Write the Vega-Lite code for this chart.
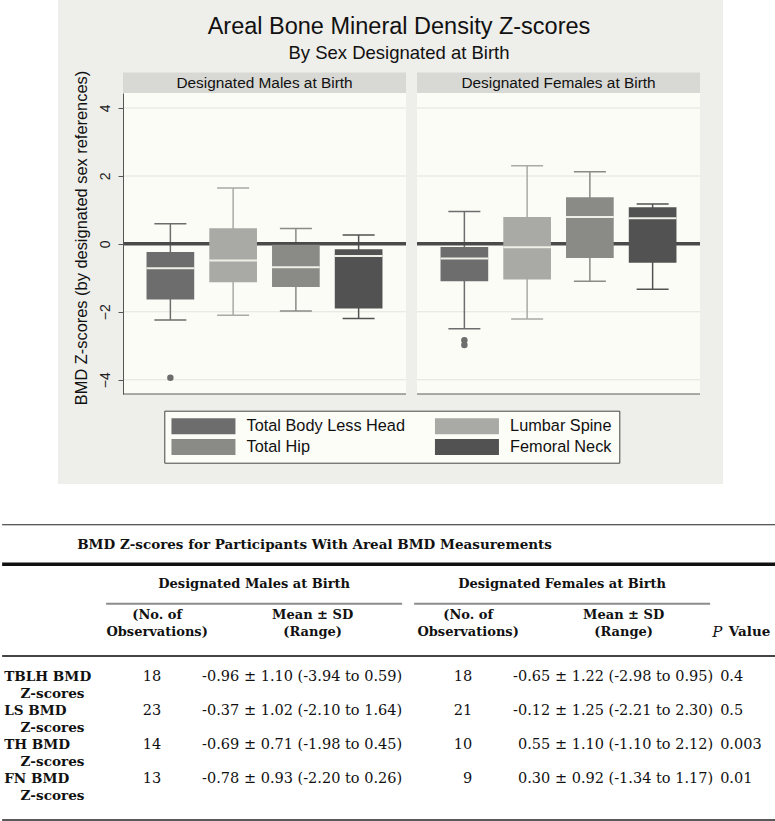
{
  "$schema": "https://vega.github.io/schema/vega-lite/v6.json",
  "padding": 0,
  "background": "#FFFFFF",
  "spacing": 40,
  "center": true,
  "config": {"view": {"stroke": null}, "font": "Liberation Sans"},
  "datasets": {
    "panels": [{"sex": "Designated Males at Birth"}, {"sex": "Designated Females at Birth"}],
    "grid": [
      {"sex": "Designated Males at Birth", "g": -4}, {"sex": "Designated Males at Birth", "g": -2},
      {"sex": "Designated Males at Birth", "g": 2}, {"sex": "Designated Males at Birth", "g": 4},
      {"sex": "Designated Females at Birth", "g": -4}, {"sex": "Designated Females at Birth", "g": -2},
      {"sex": "Designated Females at Birth", "g": 2}, {"sex": "Designated Females at Birth", "g": 4}
    ],
    "boxes": [
      {"sex": "Designated Males at Birth", "site": "Total Body Less Head", "lo": -2.24, "q1": -1.64, "med": -0.72, "q3": -0.24, "hi": 0.59},
      {"sex": "Designated Males at Birth", "site": "Lumbar Spine", "lo": -2.10, "q1": -1.13, "med": -0.49, "q3": 0.46, "hi": 1.64},
      {"sex": "Designated Males at Birth", "site": "Total Hip", "lo": -1.98, "q1": -1.27, "med": -0.69, "q3": -0.03, "hi": 0.45},
      {"sex": "Designated Males at Birth", "site": "Femoral Neck", "lo": -2.20, "q1": -1.90, "med": -0.36, "q3": -0.16, "hi": 0.26},
      {"sex": "Designated Females at Birth", "site": "Total Body Less Head", "lo": -2.50, "q1": -1.10, "med": -0.43, "q3": -0.09, "hi": 0.95},
      {"sex": "Designated Females at Birth", "site": "Lumbar Spine", "lo": -2.21, "q1": -1.05, "med": -0.10, "q3": 0.79, "hi": 2.30},
      {"sex": "Designated Females at Birth", "site": "Total Hip", "lo": -1.10, "q1": -0.42, "med": 0.79, "q3": 1.37, "hi": 2.12},
      {"sex": "Designated Females at Birth", "site": "Femoral Neck", "lo": -1.34, "q1": -0.56, "med": 0.75, "q3": 1.08, "hi": 1.17}
    ],
    "outliers": [
      {"sex": "Designated Males at Birth", "site": "Total Body Less Head", "z": -3.94},
      {"sex": "Designated Females at Birth", "site": "Total Body Less Head", "z": -2.84},
      {"sex": "Designated Females at Birth", "site": "Total Body Less Head", "z": -2.98}
    ],
    "groups": [
      {"grp": "Males", "title": "Designated Males at Birth"},
      {"grp": "Females", "title": "Designated Females at Birth"}
    ],
    "colheads": [
      {"col": "Males N", "text": "(No. of\nObservations)"},
      {"col": "Males Mean", "text": "Mean ± SD\n(Range)"},
      {"col": "Females N", "text": "(No. of\nObservations)"},
      {"col": "Females Mean", "text": "Mean ± SD\n(Range)"}
    ],
    "counts": [
      {"measure": "TBLH", "col": "Males N", "value": "18"},
      {"measure": "TBLH", "col": "Females N", "value": "18"},
      {"measure": "LS", "col": "Males N", "value": "23"},
      {"measure": "LS", "col": "Females N", "value": "21"},
      {"measure": "TH", "col": "Males N", "value": "14"},
      {"measure": "TH", "col": "Females N", "value": "10"},
      {"measure": "FN", "col": "Males N", "value": "13"},
      {"measure": "FN", "col": "Females N", "value": "9"}
    ],
    "means": [
      {"measure": "TBLH", "col": "Males Mean", "value": "-0.96 ± 1.10 (-3.94 to 0.59)"},
      {"measure": "TBLH", "col": "Females Mean", "value": "-0.65 ± 1.22 (-2.98 to 0.95)"},
      {"measure": "LS", "col": "Males Mean", "value": "-0.37 ± 1.02 (-2.10 to 1.64)"},
      {"measure": "LS", "col": "Females Mean", "value": "-0.12 ± 1.25 (-2.21 to 2.30)"},
      {"measure": "TH", "col": "Males Mean", "value": "-0.69 ± 0.71 (-1.98 to 0.45)"},
      {"measure": "TH", "col": "Females Mean", "value": "0.55 ± 1.10 (-1.10 to 2.12)"},
      {"measure": "FN", "col": "Males Mean", "value": "-0.78 ± 0.93 (-2.20 to 0.26)"},
      {"measure": "FN", "col": "Females Mean", "value": "0.30 ± 0.92 (-1.34 to 1.17)"}
    ],
    "rowlabels": [
      {"measure": "TBLH", "label": "TBLH BMD", "sub": "Z-scores"},
      {"measure": "LS", "label": "LS BMD", "sub": "Z-scores"},
      {"measure": "TH", "label": "TH BMD", "sub": "Z-scores"},
      {"measure": "FN", "label": "FN BMD", "sub": "Z-scores"}
    ],
    "pvalues": [
      {"measure": "TBLH", "p": "0.4"},
      {"measure": "LS", "p": "0.5"},
      {"measure": "TH", "p": "0.003"},
      {"measure": "FN", "p": "0.01"}
    ],
    "caption": [{"text": "BMD Z-scores for Participants With Areal BMD Measurements"}]
  },
  "vconcat": [
    {
      "width": 665,
      "height": 484,
      "view": {"fill": "#EEEEEA", "stroke": null},
      "title": {
        "text": "Areal Bone Mineral Density Z-scores",
        "subtitle": "By Sex Designated at Birth",
        "anchor": "middle",
        "frame": "group",
        "offset": -62,
        "dx": 8.5,
        "font": "Liberation Sans",
        "fontSize": 23.5,
        "fontWeight": "normal",
        "color": "#111111",
        "subtitleFont": "Liberation Sans",
        "subtitleFontSize": 18.5,
        "subtitleColor": "#111111",
        "subtitlePadding": 5
      },
      "layer": [
        {
          "data": {"name": "panels"},
          "mark": {"type": "bar", "color": "#FCFCF7"},
          "encoding": {
            "x": {"field": "sex", "type": "nominal", "axis": null,
                  "scale": {"domain": ["Designated Males at Birth", "Designated Females at Birth"], "range": [65, 642], "paddingInner": 0.0374, "paddingOuter": 0}},
            "y": {"datum": -4.42, "type": "quantitative",
                  "scale": {"domain": [-4.42, 4.44], "range": [394, 93], "nice": false, "zero": false},
                  "axis": {"orient": "left", "offset": -65, "values": [-4, -2, 0, 2, 4], "format": "d", "grid": false, "zindex": 1,
                           "domainColor": "#555555", "domainWidth": 1, "tickColor": "#555555", "tickSize": 5,
                           "labelAngle": -90, "labelAlign": "center", "labelBaseline": "middle", "labelPadding": 13,
                           "labelFlush": false, "labelOverlap": false,
                           "labelFont": "Liberation Sans", "labelFontSize": 14, "labelColor": "#222222",
                           "title": "BMD Z-scores (by designated sex references)", "titleFont": "Liberation Sans",
                           "titleFontSize": 16.4, "titleFontWeight": "normal", "titleColor": "#111111",
                           "titleX": -34, "titleY": 237.5, "titleLimit": 600}},
            "y2": {"datum": 4.44}
          }
        },
        {
          "data": {"name": "panels"},
          "mark": {"type": "bar", "color": "#D8D8D4"},
          "encoding": {
            "x": {"field": "sex", "type": "nominal", "axis": null},
            "y": {"datum": 4.44, "type": "quantitative"},
            "y2": {"datum": 5.04}
          }
        },
        {
          "data": {"name": "panels"},
          "mark": {"type": "text", "font": "Liberation Sans", "fontSize": 15.4, "color": "#111111", "baseline": "middle"},
          "encoding": {
            "x": {"field": "sex", "type": "nominal", "axis": null},
            "y": {"datum": 4.735, "type": "quantitative"},
            "text": {"field": "sex"}
          }
        },
        {
          "data": {"name": "grid"},
          "mark": {"type": "tick", "orient": "horizontal", "color": "#E4E4DF", "opacity": 1, "size": 283, "thickness": 1},
          "encoding": {
            "x": {"field": "sex", "type": "nominal", "axis": null},
            "y": {"field": "g", "type": "quantitative"}
          }
        },
        {
          "data": {"name": "boxes"},
          "mark": {"type": "bar", "width": 1.5},
          "encoding": {
            "x": {"field": "sex", "type": "nominal", "axis": null},
            "xOffset": {"field": "site", "type": "nominal",
                        "scale": {"domain": ["Total Body Less Head", "Lumbar Spine", "Total Hip", "Femoral Neck"], "paddingInner": 0.24, "paddingOuter": 0.375}},
            "y": {"field": "lo", "type": "quantitative"},
            "y2": {"field": "hi"},
            "color": {"field": "site", "type": "nominal"}
          }
        },
        {
          "data": {"name": "panels"},
          "mark": {"type": "tick", "orient": "horizontal", "color": "#4A4A4A", "opacity": 1, "size": 283, "thickness": 3.5},
          "encoding": {
            "x": {"field": "sex", "type": "nominal", "axis": null},
            "y": {"datum": 0, "type": "quantitative"}
          }
        },
        {
          "data": {"name": "panels"},
          "mark": {"type": "tick", "orient": "horizontal", "color": "#5A5A5A", "opacity": 1, "size": 283, "thickness": 1.2},
          "encoding": {
            "x": {"field": "sex", "type": "nominal", "axis": null},
            "y": {"datum": -4.42, "type": "quantitative"}
          }
        },
        {
          "data": {"name": "boxes"},
          "mark": {"type": "tick", "orient": "horizontal", "opacity": 1, "size": 32, "thickness": 1.5},
          "encoding": {
            "x": {"field": "sex", "type": "nominal", "axis": null},
            "xOffset": {"field": "site", "type": "nominal"},
            "y": {"field": "lo", "type": "quantitative"},
            "color": {"field": "site", "type": "nominal"}
          }
        },
        {
          "data": {"name": "boxes"},
          "mark": {"type": "tick", "orient": "horizontal", "opacity": 1, "size": 32, "thickness": 1.5},
          "encoding": {
            "x": {"field": "sex", "type": "nominal", "axis": null},
            "xOffset": {"field": "site", "type": "nominal"},
            "y": {"field": "hi", "type": "quantitative"},
            "color": {"field": "site", "type": "nominal"}
          }
        },
        {
          "data": {"name": "boxes"},
          "mark": {"type": "bar", "opacity": 1},
          "encoding": {
            "x": {"field": "sex", "type": "nominal", "axis": null},
            "xOffset": {"field": "site", "type": "nominal"},
            "y": {"field": "q1", "type": "quantitative"},
            "y2": {"field": "q3"},
            "color": {"field": "site", "type": "nominal",
                      "scale": {"domain": ["Total Body Less Head", "Lumbar Spine", "Total Hip", "Femoral Neck"], "range": ["#6D6D6D", "#A9A9A5", "#8A8A86", "#525252"]},
                      "legend": {"orient": "none", "legendX": 162.3, "legendY": 410.7, "title": null, "columns": 2,
                                 "values": ["Total Body Less Head", "Total Hip", "Lumbar Spine", "Femoral Neck"],
                                 "symbolType": "M-1,-1L7,-1L7,1L-1,1Z", "symbolSize": 256, "symbolStrokeWidth": 0,
                                 "symbolOpacity": 1,
                                 "labelFont": "Liberation Sans", "labelFontSize": 16.3, "labelColor": "#111111", "labelOffset": 59,
                                 "labelLimit": 400, "columnPadding": 29.5, "rowPadding": 4.2, "padding": 7,
                                 "fillColor": "#FDFDF8", "strokeColor": "#444444"}}
          }
        },
        {
          "data": {"name": "boxes"},
          "mark": {"type": "tick", "orient": "horizontal", "color": "#F0F0E8", "opacity": 1, "size": 47.7, "thickness": 2},
          "encoding": {
            "x": {"field": "sex", "type": "nominal", "axis": null},
            "xOffset": {"field": "site", "type": "nominal"},
            "y": {"field": "med", "type": "quantitative"}
          }
        },
        {
          "data": {"name": "outliers"},
          "mark": {"type": "point", "filled": true, "opacity": 1, "size": 42, "color": "#6D6D6D"},
          "encoding": {
            "x": {"field": "sex", "type": "nominal", "axis": null},
            "xOffset": {"field": "site", "type": "nominal"},
            "y": {"field": "z", "type": "quantitative"}
          }
        }
      ]
    },
    {
      "width": 775,
      "height": 296,
      "view": {"fill": "#FFFFFF", "stroke": null},
      "resolve": {"scale": {"x": "independent", "y": "independent"}},
      "layer": [
        {
          "layer": [
            {
              "data": {"name": "caption"},
              "mark": {"type": "rule", "color": "#222222", "strokeWidth": 1.2},
              "encoding": {
                "y": {"datum": "caption", "type": "nominal", "bandPosition": 0, "axis": null,
                      "scale": {"type": "band", "domain": ["caption", "span", "cols"], "range": [0.75, 119.25], "paddingInner": 0, "paddingOuter": 0}}
              }
            },
            {
              "data": {"name": "caption"},
              "mark": {"type": "rule", "color": "#111111", "strokeWidth": 3.5},
              "encoding": {
                "y": {"datum": "span", "type": "nominal", "bandPosition": 0, "axis": null}
              }
            },
            {
              "data": {"name": "groups"},
              "mark": {"type": "text", "font": "DejaVu Serif", "fontWeight": "bold", "fontSize": 13, "color": "#111111", "baseline": "middle"},
              "encoding": {
                "x": {"field": "grp", "type": "nominal", "axis": null,
                      "scale": {"type": "band", "domain": ["Males", "Females"], "range": [104, 708], "paddingInner": 0.039, "paddingOuter": 0}},
                "y": {"datum": "span", "type": "nominal", "axis": null},
                "text": {"field": "title"}
              }
            },
            {
              "data": {"name": "groups"},
              "mark": {"type": "tick", "orient": "horizontal", "color": "#8C8C8C", "opacity": 1, "size": 296, "thickness": 2},
              "encoding": {
                "x": {"field": "grp", "type": "nominal", "axis": null},
                "y": {"datum": "cols", "type": "nominal", "bandPosition": 0, "axis": null}
              }
            }
          ]
        },
        {
          "layer": [
            {
              "data": {"name": "colheads"},
              "mark": {"type": "text", "font": "DejaVu Serif", "fontWeight": "bold", "fontSize": 13, "color": "#111111",
                       "baseline": "middle", "lineBreak": "\n", "lineHeight": 17.5, "dy": -8.75},
              "encoding": {
                "x": {"field": "col", "type": "nominal", "axis": null,
                      "scale": {"type": "band", "domain": ["Males N", "Males Mean", "Females N", "Females Mean"], "range": [77.25, 699.25], "paddingInner": 0, "paddingOuter": 0}},
                "y": {"datum": "cols", "type": "nominal", "axis": null,
                      "scale": {"type": "band", "domain": ["caption", "span", "cols"], "range": [0.75, 119.25], "paddingInner": 0, "paddingOuter": 0}},
                "text": {"field": "text"}
              }
            }
          ]
        },
        {
          "layer": [
            {
              "data": {"name": "counts"},
              "mark": {"type": "text", "font": "DejaVu Serif", "fontSize": 14.5, "color": "#111111", "align": "right", "baseline": "middle"},
              "encoding": {
                "x": {"field": "col", "type": "nominal", "bandPosition": 0.526, "axis": null,
                      "scale": {"type": "band", "domain": ["Males N", "Males Mean", "Females N", "Females Mean"], "range": [77.25, 699.25], "paddingInner": 0, "paddingOuter": 0}},
                "y": {"field": "measure", "type": "nominal", "axis": null,
                      "scale": {"type": "band", "domain": ["TBLH", "LS", "TH", "FN"], "range": [132, 296], "paddingInner": 0, "paddingOuter": 0.4118, "align": 0.1429}},
                "text": {"field": "value"}
              }
            },
            {
              "data": {"name": "means"},
              "mark": {"type": "text", "font": "DejaVu Serif", "fontSize": 14.5, "color": "#111111", "align": "right", "baseline": "middle"},
              "encoding": {
                "x": {"field": "col", "type": "nominal", "bandPosition": 1.0756, "axis": null},
                "y": {"field": "measure", "type": "nominal", "axis": null},
                "text": {"field": "value"}
              }
            },
            {
              "data": {"name": "caption"},
              "mark": {"type": "rule", "color": "#444444", "strokeWidth": 2},
              "encoding": {
                "y": {"datum": "TBLH", "type": "nominal", "bandPosition": -0.12, "axis": null}
              }
            },
            {
              "data": {"name": "caption"},
              "mark": {"type": "rule", "color": "#222222", "strokeWidth": 1.5},
              "encoding": {
                "y": {"value": "height"}
              }
            }
          ]
        },
        {
          "layer": [
            {
              "data": {"name": "rowlabels"},
              "mark": {"type": "text", "font": "DejaVu Serif", "fontWeight": "bold", "fontSize": 13.6, "color": "#111111",
                       "align": "left", "baseline": "middle", "dx": 2},
              "encoding": {
                "x": {"datum": "lab", "type": "nominal", "bandPosition": 0, "axis": null,
                      "scale": {"type": "band", "domain": ["lab", "p"], "range": [0, 775], "paddingInner": 0.9146, "paddingOuter": 0}},
                "y": {"field": "measure", "type": "nominal", "axis": null,
                      "scale": {"type": "band", "domain": ["TBLH", "LS", "TH", "FN"], "range": [132, 296], "paddingInner": 0, "paddingOuter": 0.4118, "align": 0.1429}},
                "text": {"field": "label"}
              }
            },
            {
              "data": {"name": "rowlabels"},
              "mark": {"type": "text", "font": "DejaVu Serif", "fontWeight": "bold", "fontSize": 13.6, "color": "#111111",
                       "align": "left", "baseline": "middle", "dx": 18.3, "dy": 17},
              "encoding": {
                "x": {"datum": "lab", "type": "nominal", "bandPosition": 0, "axis": null},
                "y": {"field": "measure", "type": "nominal", "axis": null},
                "text": {"field": "sub"}
              }
            },
            {
              "data": {"name": "pvalues"},
              "mark": {"type": "text", "font": "DejaVu Serif", "fontSize": 14.5, "color": "#111111", "align": "left", "baseline": "middle", "dx": 4},
              "encoding": {
                "x": {"datum": "p", "type": "nominal", "bandPosition": 0, "axis": null},
                "y": {"field": "measure", "type": "nominal", "axis": null},
                "text": {"field": "p"}
              }
            }
          ]
        },
        {
          "layer": [
            {
              "data": {"name": "caption"},
              "mark": {"type": "text", "font": "DejaVu Serif", "fontWeight": "bold", "fontSize": 13.5, "color": "#111111", "align": "left", "baseline": "middle", "dx": 75},
              "encoding": {
                "x": {"datum": "lab", "type": "nominal", "bandPosition": 0, "axis": null,
                      "scale": {"type": "band", "domain": ["lab", "p"], "range": [0, 775], "paddingInner": 0.9146, "paddingOuter": 0}},
                "y": {"datum": "caption", "type": "nominal", "axis": null,
                      "scale": {"type": "band", "domain": ["caption", "span", "cols"], "range": [0.75, 119.25], "paddingInner": 0, "paddingOuter": 0}},
                "text": {"field": "text"}
              }
            },
            {
              "data": {"name": "caption"},
              "mark": {"type": "text", "font": "DejaVu Serif", "fontStyle": "italic", "fontSize": 15, "color": "#111111", "align": "left", "baseline": "middle", "dx": -4, "dy": 8.75},
              "encoding": {
                "x": {"datum": "p", "type": "nominal", "bandPosition": 0, "axis": null},
                "y": {"datum": "cols", "type": "nominal", "axis": null},
                "text": {"value": "P"}
              }
            },
            {
              "data": {"name": "caption"},
              "mark": {"type": "text", "font": "DejaVu Serif", "fontWeight": "bold", "fontSize": 13.5, "color": "#111111", "align": "left", "baseline": "middle", "dx": 12.7, "dy": 8.75},
              "encoding": {
                "x": {"datum": "p", "type": "nominal", "bandPosition": 0, "axis": null},
                "y": {"datum": "cols", "type": "nominal", "axis": null},
                "text": {"value": "Value"}
              }
            }
          ]
        }
      ]
    }
  ]
}
